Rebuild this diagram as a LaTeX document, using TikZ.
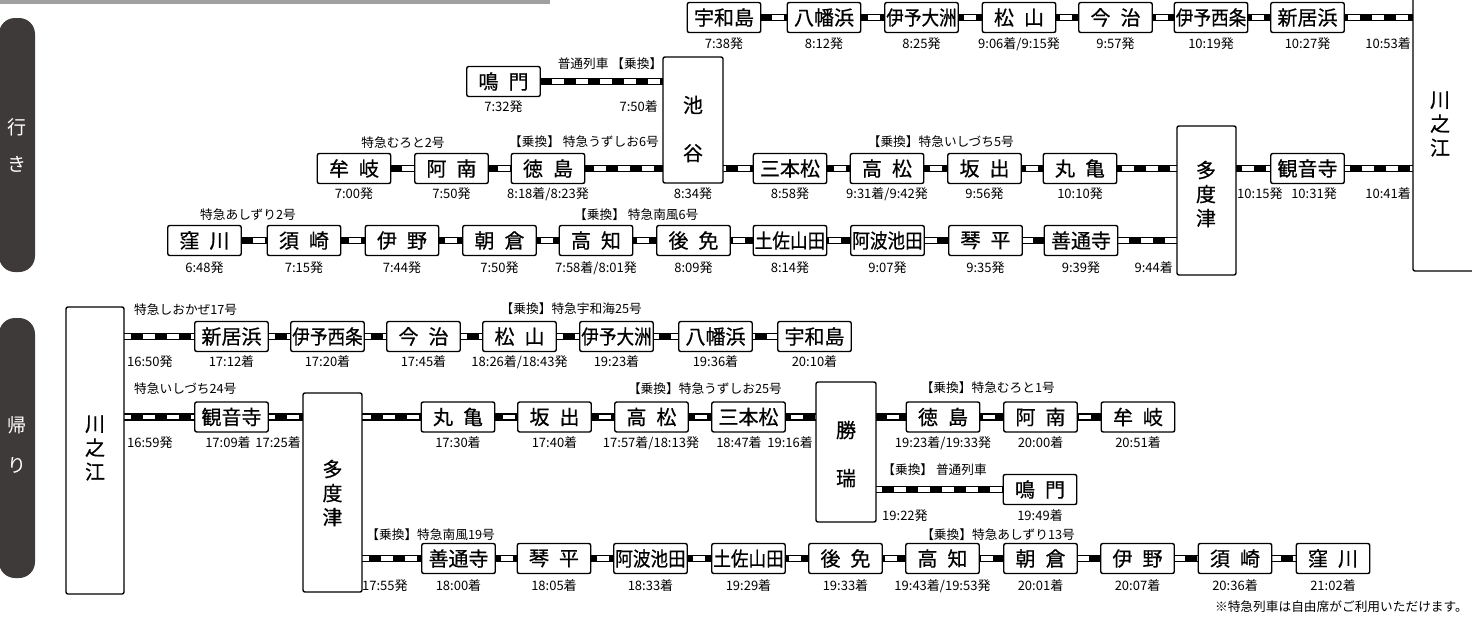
\documentclass[tikz,border=0pt]{standalone}
\usepackage{fontspec}
\usepackage{graphicx}
\setmainfont{Noto Sans CJK JP}
\newfontfamily\jpb[FakeBold=0.6]{Noto Sans CJK JP}
\usetikzlibrary{backgrounds}
\definecolor{pillgray}{HTML}{3E3A39}
\definecolor{topgray}{HTML}{A0A0A0}
\newcommand\condense[1]{\scalebox{0.88}[1]{#1}}
\newcommand\kspc{\hspace{0.5em}}
\tikzset{
  stn/.style={draw=black, line width=1.4pt, rounded corners=2pt, fill=white,
    minimum width=73.5pt, minimum height=30pt, inner sep=0pt,
    font=\fontsize{20}{20}\selectfont\jpb},
  vbox/.style={draw=black, line width=1.4pt, rounded corners=2pt, fill=white, inner sep=0pt},
  vtxt/.style={inner sep=0pt, align=center, font=\fontsize{20}{24}\selectfont\jpb},
  vtxtw/.style={inner sep=0pt, align=center, font=\fontsize{20}{48}\selectfont\jpb},
  tm/.style={inner sep=0pt, font=\fontsize{13}{13}\selectfont},
  lbl/.style={inner sep=0pt, font=\fontsize{12.7}{13}\selectfont},
  track/.style={draw=black, line width=7.5pt,
    postaction={draw=white, line width=4.5pt, dash pattern=on 12pt off 12pt}},
  pilltxt/.style={inner sep=0pt, text=white, font=\fontsize{19}{19}\selectfont},
}
\begin{document}
\begin{tikzpicture}[x=1pt,y=-1pt]
\useasboundingbox (0,0) rectangle (1472,624);
\clip (0,0) rectangle (1472,624);
% decorations
\fill[topgray] (0,0) rectangle (550,3.5);
\fill[pillgray, rounded corners=16pt] (-1,18) rectangle (35,272);
\fill[pillgray, rounded corners=16pt] (-1,318) rectangle (35,578);
\node[pilltxt] (pa1) at (17,127) {行};
\node[pilltxt] (pa2) at (17,164) {き};
\node[pilltxt] (pb1) at (17,425) {帰};
\node[pilltxt] (pb2) at (17,465) {り};

% ---------- outbound ----------
\node[vbox, minimum width=80pt, minimum height=290pt] (kwo) at (1453,126) {};
\node[vtxt] (kwot) at (1440,124) {川\\之\\江};
\node[vbox, minimum width=60pt, minimum height=126pt] (ike) at (693,120) {};
\node[vtxtw] (iket) at (693,129) {池\\谷};
\node[vbox, minimum width=59pt, minimum height=149pt] (tdo) at (1206.5,200.5) {};
\node[vtxt] (tdot) at (1206,194) {多\\度\\津};

% row A
\node[stn] (a1) at (724,17.5) {宇和島};
\node[stn] (a2) at (824,17.5) {八幡浜};
\node[stn] (a3) at (921.5,17.5) {\condense{伊予大洲}};
\node[stn] (a4) at (1019,17.5) {松\kspc 山};
\node[stn] (a5) at (1115.5,17.5) {今\kspc 治};
\node[stn] (a6) at (1211,17.5) {\condense{伊予西条}};
\node[stn] (a7) at (1307.5,17.5) {新居浜};
\node[tm] (ta1) at (724,44) {7:38発};
\node[tm] (ta2) at (824,44) {8:12発};
\node[tm] (ta3) at (921.5,44) {8:25発};
\node[tm] (ta4) at (1019,44) {9:06着/9:15発};
\node[tm] (ta5) at (1115.5,44) {9:57発};
\node[tm] (ta6) at (1211,44) {10:19発};
\node[tm] (ta7) at (1307.5,44) {10:27発};
\node[tm, anchor=east] (ta8) at (1411,44) {10:53着};

% row B
\node[stn] (b1) at (503.5,81.5) {鳴\kspc 門};
\node[lbl] (lb1) at (610,64) {普通列車 【乗換】};
\node[tm] (tb1) at (503.5,107) {7:32発};
\node[tm, anchor=east] (tb2) at (658,107) {7:50着};

% row C
\node[stn] (c1) at (354,168.5) {牟\kspc 岐};
\node[stn] (c2) at (451.5,168.5) {阿\kspc 南};
\node[stn] (c3) at (548,168.5) {徳\kspc 島};
\node[stn] (c4) at (790,168.5) {三本松};
\node[stn] (c5) at (887,168.5) {高\kspc 松};
\node[stn] (c6) at (984.5,168.5) {坂\kspc 出};
\node[stn] (c7) at (1080,168.5) {丸\kspc 亀};
\node[stn] (c8) at (1307.5,168.5) {観音寺};
\node[lbl] (lc1) at (403,143) {特急むろと2号};
\node[lbl, anchor=east] (lc2) at (659,142) {【乗換】 特急うずしお6号};
\node[lbl, anchor=east] (lc3) at (1014,142) {【乗換】特急いしづち5号};
\node[tm] (tc1) at (354,194) {7:00発};
\node[tm] (tc2) at (451.5,194) {7:50発};
\node[tm] (tc3) at (548,194) {8:18着/8:23発};
\node[tm] (tc4) at (693,194) {8:34発};
\node[tm] (tc5) at (790,194) {8:58発};
\node[tm] (tc6) at (887,194) {9:31着/9:42発};
\node[tm] (tc7) at (984.5,194) {9:56発};
\node[tm] (tc8) at (1080,194) {10:10発};
\node[tm, anchor=west] (tc9) at (1237,194) {10:15発};
\node[tm] (tc10) at (1314,194) {10:31発};
\node[tm, anchor=east] (tc11) at (1411,194) {10:41着};

% row D
\node[stn] (d1) at (204.5,240.5) {窪\kspc 川};
\node[stn] (d2) at (304,240.5) {須\kspc 崎};
\node[stn] (d3) at (402,240.5) {伊\kspc 野};
\node[stn] (d4) at (499.5,240.5) {朝\kspc 倉};
\node[stn] (d5) at (596,240.5) {高\kspc 知};
\node[stn] (d6) at (693.5,240.5) {後\kspc 免};
\node[stn] (d7) at (790,240.5) {\condense{土佐山田}};
\node[stn] (d8) at (887.5,240.5) {\condense{阿波池田}};
\node[stn] (d9) at (985.5,240.5) {琴\kspc 平};
\node[stn] (d10) at (1081,240.5) {善通寺};
\node[lbl] (ld1) at (248,215) {特急あしずり2号};
\node[lbl, anchor=west] (ld2) at (574,215) {【乗換】 特急南風6号};
\node[tm] (td1) at (204.5,268) {6:48発};
\node[tm] (td2) at (304,268) {7:15発};
\node[tm] (td3) at (402,268) {7:44発};
\node[tm] (td4) at (499.5,268) {7:50発};
\node[tm] (td5) at (596,268) {7:58着/8:01発};
\node[tm] (td6) at (693.5,268) {8:09発};
\node[tm] (td7) at (790,268) {8:14発};
\node[tm] (td8) at (887.5,268) {9:07発};
\node[tm] (td9) at (985.5,268) {9:35発};
\node[tm] (td10) at (1081,268) {9:39発};
\node[tm, anchor=east] (td11) at (1173,268) {9:44着};

% ---------- return ----------
\node[vbox, minimum width=58pt, minimum height=287pt] (kwr) at (95,450.5) {};
\node[vtxt] (kwrt) at (95,448) {川\\之\\江};
\node[vbox, minimum width=59pt, minimum height=199pt] (tdr) at (332.5,492.5) {};
\node[vtxt] (tdrt) at (332.5,493) {多\\度\\津};
\node[vbox, minimum width=60pt, minimum height=140pt] (sho) at (846,452) {};
\node[vtxtw] (shot) at (846,454) {勝\\瑞};

% row E
\node[stn] (e1) at (231.5,336.5) {新居浜};
\node[stn] (e2) at (327.5,336.5) {\condense{伊予西条}};
\node[stn] (e3) at (423.5,336.5) {今\kspc 治};
\node[stn] (e4) at (519.5,336.5) {松\kspc 山};
\node[stn] (e5) at (616.5,336.5) {\condense{伊予大洲}};
\node[stn] (e6) at (715.5,336.5) {八幡浜};
\node[stn] (e7) at (814.5,336.5) {宇和島};
\node[lbl, anchor=west] (le1) at (134,310) {特急しおかぜ17号};
\node[lbl, anchor=east] (le2) at (642,309) {【乗換】特急宇和海25号};
\node[tm, anchor=west] (te1) at (127,362) {16:50発};
\node[tm] (te2) at (231.5,362) {17:12着};
\node[tm] (te3) at (327.5,362) {17:20着};
\node[tm] (te4) at (423.5,362) {17:45着};
\node[tm] (te5) at (519.5,362) {18:26着/18:43発};
\node[tm] (te6) at (616.5,362) {19:23着};
\node[tm] (te7) at (715.5,362) {19:36着};
\node[tm] (te8) at (814.5,362) {20:10着};

% row F
\node[stn] (f1) at (231.5,417) {観音寺};
\node[stn] (f2) at (458,417) {丸\kspc 亀};
\node[stn] (f3) at (554.5,417) {坂\kspc 出};
\node[stn] (f4) at (651.5,417) {高\kspc 松};
\node[stn] (f5) at (748.5,417) {三本松};
\node[stn] (f6) at (943,417) {徳\kspc 島};
\node[stn] (f7) at (1040.5,417) {阿\kspc 南};
\node[stn] (f8) at (1138,417) {牟\kspc 岐};
\node[lbl, anchor=west] (lf1) at (134,389) {特急いしづち24号};
\node[lbl, anchor=east] (lf2) at (782,389) {【乗換】特急うずしお25号};
\node[lbl, anchor=east] (lf3) at (1055,388) {【乗換】特急むろと1号};
\node[tm, anchor=west] (tf1) at (127,443) {16:59発};
\node[tm] (tf2) at (228,443) {17:09着};
\node[tm, anchor=east] (tf3) at (301,443) {17:25着};
\node[tm] (tf4) at (458,443) {17:30着};
\node[tm] (tf5) at (554.5,443) {17:40着};
\node[tm] (tf6) at (651,443) {17:57着/18:13発};
\node[tm] (tf7) at (739,443) {18:47着};
\node[tm, anchor=east] (tf8) at (813,443) {19:16着};
\node[tm] (tf9) at (943,443) {19:23着/19:33発};
\node[tm] (tf10) at (1040.5,443) {20:00着};
\node[tm] (tf11) at (1138,443) {20:51着};

% row G
\node[stn] (g1) at (1040,489.5) {鳴\kspc 門};
\node[lbl, anchor=east] (lg1) at (987,470) {【乗換】 普通列車};
\node[tm, anchor=west] (tg1) at (882,516) {19:22発};
\node[tm] (tg2) at (1040,516) {19:49着};

% row H
\node[stn] (h1) at (458.5,558.5) {善通寺};
\node[stn] (h2) at (554,558.5) {琴\kspc 平};
\node[stn] (h3) at (650.5,558.5) {\condense{阿波池田}};
\node[stn] (h4) at (748.5,558.5) {\condense{土佐山田}};
\node[stn] (h5) at (845.5,558.5) {後\kspc 免};
\node[stn] (h6) at (942.5,558.5) {高\kspc 知};
\node[stn] (h7) at (1040.5,558.5) {朝\kspc 倉};
\node[stn] (h8) at (1137.5,558.5) {伊\kspc 野};
\node[stn] (h9) at (1235,558.5) {須\kspc 崎};
\node[stn] (h10) at (1333,558.5) {窪\kspc 川};
\node[lbl, anchor=east] (lh1) at (495,535) {【乗換】特急南風19号};
\node[lbl, anchor=east] (lh2) at (1075,535) {【乗換】特急あしずり13号};
\node[tm, anchor=west] (th1) at (362,586) {17:55発};
\node[tm] (th2) at (458.5,586) {18:00着};
\node[tm] (th3) at (554,586) {18:05着};
\node[tm] (th4) at (650.5,586) {18:33着};
\node[tm] (th5) at (748.5,586) {19:29着};
\node[tm] (th6) at (845.5,586) {19:33着};
\node[tm] (th7) at (942.5,586) {19:43着/19:53発};
\node[tm] (th8) at (1040.5,586) {20:01着};
\node[tm] (th9) at (1137.5,586) {20:07着};
\node[tm] (th10) at (1235,586) {20:36着};
\node[tm] (th11) at (1333,586) {21:02着};

\node[lbl, anchor=east] (note) at (1468,607) {※特急列車は自由席がご利用いただけます。};

% ---------- tracks ----------
\begin{scope}[on background layer]
\draw[track] (a1.center) -- (a1 -| kwo.center);
\draw[track] (b1.center) -- (b1 -| ike.center);
\draw[track] (c1.center) -- (c1 -| kwo.center);
\draw[track] (d1.center) -- (d1 -| tdo.center);
\draw[track] (e1 -| kwr.center) -- (e7.center);
\draw[track] (f1 -| kwr.center) -- (f8.center);
\draw[track] (g1 -| sho.center) -- (g1.center);
\draw[track] (h1 -| tdr.center) -- (h10.center);
\end{scope}
\end{tikzpicture}
\end{document}
